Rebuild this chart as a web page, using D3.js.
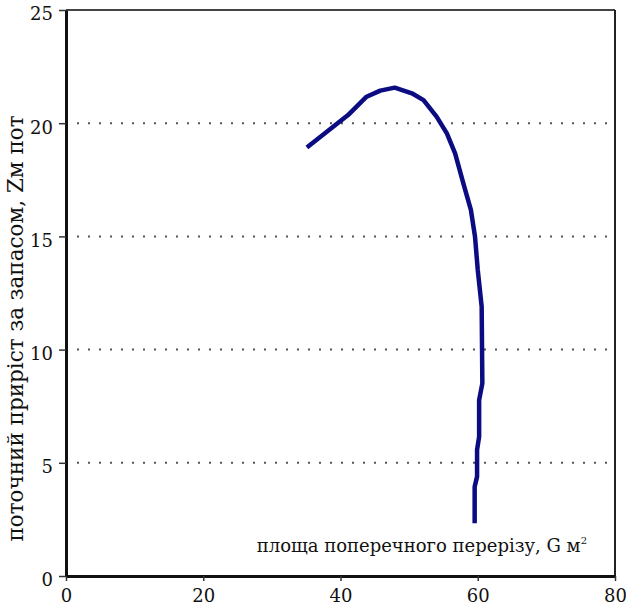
<!DOCTYPE html>
<html>
<head>
<meta charset="utf-8">
<script src="https://cdn.jsdelivr.net/npm/d3@7"></script>
<style>
  body { margin: 0; background: #fff; }
  svg text { font-family: "DejaVu Serif", serif; fill: #111; }
</style>
</head>
<body>
<script>
// площа поперечного перерізу (G) vs поточний приріст за запасом (Zм пот)
const areaG = [35.1, 41.1, 43.8, 45.8, 47.9, 50.4, 52.1, 54.0, 55.5, 56.7, 57.9, 59.0, 59.6, 60.0, 60.57, 60.67, 60.2, 60.2, 59.9, 59.9, 59.55, 59.55];
const growthZ = [18.93, 20.36, 21.17, 21.44, 21.57, 21.32, 21.02, 20.29, 19.55, 18.67, 17.34, 16.17, 14.99, 13.52, 11.9, 8.51, 7.77, 6.15, 5.57, 4.39, 3.94, 2.33];
const xTicks = [0, 20, 40, 60, 80];
const yTicks = [0, 5, 10, 15, 20, 25];
const gridLevels = [5, 10, 15, 20];

const W = 626, H = 608;
const plotL = 66, plotR = 615, plotT = 10, plotB = 576;

const svg = d3.select("body").append("svg")
    .attr("width", W).attr("height", H);

const x = d3.scaleLinear().domain([0, 80]).range([plotL, plotR]);
const y = d3.scaleLinear().domain([0, 25]).range([plotB, plotT]);

// dotted grid
svg.append("g").selectAll("line").data(gridLevels).join("line")
    .attr("x1", plotL).attr("x2", plotR)
    .attr("y1", d => y(d)).attr("y2", d => y(d))
    .attr("stroke", "#555").attr("stroke-width", 2)
    .attr("stroke-dasharray", "2,9");

// frame top + right
svg.append("line").attr("x1", plotL).attr("x2", plotR).attr("y1", plotT).attr("y2", plotT)
    .attr("stroke", "#444").attr("stroke-width", 2);
svg.append("line").attr("x1", plotR).attr("x2", plotR).attr("y1", plotT).attr("y2", plotB)
    .attr("stroke", "#222").attr("stroke-width", 2);

// axes
const xAxis = svg.append("g").attr("transform", `translate(0,${plotB})`)
    .call(d3.axisBottom(x).tickValues(xTicks).tickSize(5).tickSizeOuter(0).tickPadding(8));
const yAxis = svg.append("g").attr("transform", `translate(${plotL},0)`)
    .call(d3.axisLeft(y).tickValues(yTicks).tickSize(7).tickSizeOuter(0).tickPadding(6));

[xAxis, yAxis].forEach(g => {
  g.attr("font-family", null).attr("font-size", null);
  g.select(".domain").attr("stroke", "#111").attr("stroke-width", 3);
  g.selectAll(".tick line").attr("stroke", "#333").attr("stroke-width", 1.5);
  g.selectAll(".tick text").style("font-size", "18px").attr("fill", "#111");
});
yAxis.selectAll(".tick text").attr("dy", "0.55em");

// curve
const line = d3.line().x((d, i) => x(areaG[i])).y((d, i) => y(growthZ[i]))
    .curve(d3.curveLinear);
svg.append("path").datum(areaG)
    .attr("d", line)
    .attr("fill", "none")
    .attr("stroke", "#0b0b82")
    .attr("stroke-width", 4.5)
    .attr("stroke-linejoin", "round");

// x title inside plot
const xt = svg.append("text")
    .attr("x", 587).attr("y", 552)
    .attr("text-anchor", "end")
    .style("font-size", "18px");
xt.append("tspan").text("площа поперечного перерізу, G м");
xt.append("tspan").attr("dy", "-8").style("font-size", "10px").text("2");

// y title
svg.append("text")
    .attr("transform", "translate(23,328.5) rotate(-90)")
    .attr("text-anchor", "middle")
    .style("font-size", "21.5px")
    .text("поточний приріст за запасом, Zм пот");
</script>
</body>
</html>
